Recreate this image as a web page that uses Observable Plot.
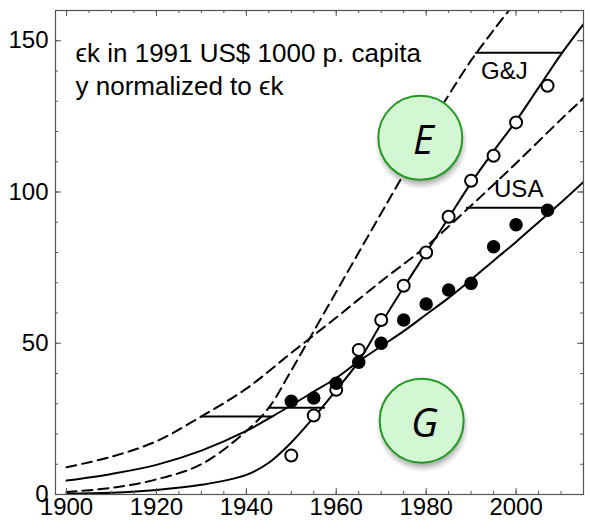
<!DOCTYPE html>
<html><head><meta charset="utf-8">
<script src="https://cdn.jsdelivr.net/npm/d3@7"></script>
<script src="https://cdn.jsdelivr.net/npm/@observablehq/plot@0.6"></script>
<style>body{margin:0;background:#fff}</style>
</head><body><div id="chart"></div>
<script>
// ---- data ----
const xMajorTicks = [1900, 1920, 1940, 1960, 1980, 2000];
const xMinorTicks = [1900,1905,1910,1915,1920,1925,1930,1935,1940,1945,1950,1955,1960,1965,1970,1975,1980,1985,1990,1995,2000,2005,2010,2015];
const yMajorTicks = [0, 50, 100, 150];
const yMinorTicks = [0,10,20,30,40,50,60,70,80,90,100,110,120,130,140,150,160];

// USA model (solid)
const usaModelYears  = [1900,1910,1920,1930,1940,1946,1950,1955,1960,1965,1970,1975,1980,1985,1990,1995,2000,2005,2010,2015];
const usaModelValues = [4.6,6.8,9.8,14.5,21,26,29.5,34,38.5,44,49,54,59.5,65,71,77.3,83.5,90,96.5,103.3];
// USA model shifted (dashed)
const usaShiftYears  = [1900,1910,1920,1930,1940,1950,1960,1970,1980,1990,2000,2010,2015];
const usaShiftValues = [9.0,12.5,17.6,25.8,35,46.8,58.5,70.5,82,95.5,109.5,124,131];
// G&J model (solid)
const gjModelYears  = [1900,1910,1920,1930,1940,1945,1950,1955,1960,1965,1970,1975,1980,1985,1990,1995,2000,2005,2010,2015];
const gjModelValues = [0.3,0.6,1.5,3.2,6.5,10.5,17.2,25.5,34.5,44,56.5,68.5,80,91.5,103,113.5,123.5,134.5,145.5,155.5];
// G&J model shifted (dashed)
const gjShiftYears  = [1900,1910,1920,1930,1940,1945,1950,1955,1960,1965,1970,1975,1980,1985,1990,1995,2000];
const gjShiftValues = [0.8,2.2,5,10,21,28.7,41,54,67,80,93,106,120,132,143.5,153.5,163];

// observed data
const usaDataYears  = [1950,1955,1960,1965,1970,1975,1980,1985,1990,1995,2000,2007];
const usaDataValues = [30.8,31.9,36.8,43.7,50,57.7,63,67.6,69.8,81.9,89.2,94];
const gjDataYears   = [1950,1955,1960,1965,1970,1975,1980,1985,1990,1995,2000,2007];
const gjDataValues  = [12.9,26.1,34.6,47.8,57.7,69,80,91.8,103.7,112,123,135.1];

// horizontal shift segments
const segStart = [1930, 1945, 1989, 1991];
const segEnd   = [1946, 1957.6, 2008.2, 2010.4];
const segValue = [25.8, 28.7, 94.8, 146];

// series labels
const seriesLabels = ["G&J", "USA"];
const seriesLabelYears = [1992.2, 1995.1];
const seriesLabelValues = [137.4, 98.2];

// badges
const badgeLetters = ["E", "G"];
const badgeYears = [1978.7, 1979];
const badgeValues = [117.9, 24.4];

const noteText = "ϵk in 1991 US$ 1000 p. capita\ny normalized to ϵk";

// ---- build tables ----
const zipXY = (xs, ys) => xs.map((x, i) => ({x, y: ys[i]}));
const usaModel = zipXY(usaModelYears, usaModelValues);
const usaShift = zipXY(usaShiftYears, usaShiftValues);
const gjModel = zipXY(gjModelYears, gjModelValues);
const gjShift = zipXY(gjShiftYears, gjShiftValues);
const usaData = zipXY(usaDataYears, usaDataValues);
const gjData = zipXY(gjDataYears, gjDataValues);
const segs = segStart.map((s, i) => ({x1: s, x2: segEnd[i], y: segValue[i]}));
const sLabels = seriesLabels.map((t, i) => ({t, x: seriesLabelYears[i], y: seriesLabelValues[i]}));
const badges = badgeLetters.map((t, i) => ({t, x: badgeYears[i], y: badgeValues[i]}));

const W = 590, H = 524, mL = 55, mR = 7, mT = 10, mB = 30;
const fw = W - mL - mR, fh = H - mT - mB;
const axisColor = "#555";
const font = "'Liberation Sans', Arial, sans-serif";

// soft shadow built from a few translucent layers
const shadowLayers = [[46, 0.05], [44, 0.07], [42, 0.09], [40, 0.1]].map(([r, o]) =>
  Plot.dot(badges, {x: "x", y: "y", r, fill: "#000", fillOpacity: o, dx: 1, dy: 5}));

const chart = Plot.plot({
  width: W, height: H,
  marginLeft: mL, marginRight: mR, marginTop: mT, marginBottom: mB,
  style: {fontFamily: font, fontSize: "24px", background: "#fff", color: "#000"},
  x: {domain: [1897.55, 2015], axis: null},
  y: {domain: [0, 160], axis: null},
  marks: [
    // curves
    Plot.line(usaShift, {x: "x", y: "y", stroke: "#000", strokeWidth: 2, strokeDasharray: "10,6", curve: "catmull-rom", clip: true}),
    Plot.line(gjShift, {x: "x", y: "y", stroke: "#000", strokeWidth: 2, strokeDasharray: "10,6", curve: "catmull-rom", clip: true}),
    Plot.line(usaModel, {x: "x", y: "y", stroke: "#000", strokeWidth: 2, curve: "catmull-rom", clip: true}),
    Plot.line(gjModel, {x: "x", y: "y", stroke: "#000", strokeWidth: 2, curve: "catmull-rom", clip: true}),
    Plot.ruleY(segs, {x1: "x1", x2: "x2", y: "y", stroke: "#000", strokeWidth: 2}),
    // data points
    Plot.dot(gjData, {x: "x", y: "y", r: 6, fill: "#fff", stroke: "#000", strokeWidth: 2}),
    Plot.dot(usaData, {x: "x", y: "y", r: 6, fill: "#000", stroke: "#000"}),
    // badges (on top of the curves)
    ...shadowLayers,
    Plot.dot(badges, {x: "x", y: "y", r: 42, fill: "#d3f6d3", stroke: "#229a22", strokeWidth: 2, ariaLabel: "badge"}),
    Plot.text(badges, {x: "x", y: "y", text: "t", fontSize: 40, fontStyle: "italic", fontFamily: "'Open Sans', sans-serif", fill: "#000", dx: 3, dy: 3}),
    // labels
    Plot.text(sLabels, {x: "x", y: "y", text: "t", textAnchor: "start", lineAnchor: "bottom", fontSize: 24, fill: "#000"}),
    Plot.text([noteText], {frameAnchor: "top-left", dx: 20, dy: 28.5, textAnchor: "start", lineAnchor: "top", lineHeight: 1.27, fontSize: 26, fill: "#000"}),
    // frame + inward ticks
    Plot.frame({stroke: axisColor, strokeWidth: 1.2}),
    Plot.tickX(xMinorTicks, {x: d => d, stroke: axisColor, insetTop: fh - 3}),
    Plot.tickX(xMajorTicks, {x: d => d, stroke: axisColor, insetTop: fh - 6}),
    Plot.tickX(xMinorTicks, {x: d => d, stroke: axisColor, insetBottom: fh - 3}),
    Plot.tickX(xMajorTicks, {x: d => d, stroke: axisColor, insetBottom: fh - 6}),
    Plot.tickY(yMinorTicks, {y: d => d, stroke: axisColor, insetRight: fw - 3}),
    Plot.tickY(yMajorTicks, {y: d => d, stroke: axisColor, insetRight: fw - 6}),
    Plot.tickY(yMinorTicks, {y: d => d, stroke: axisColor, insetLeft: fw - 3}),
    Plot.tickY(yMajorTicks, {y: d => d, stroke: axisColor, insetLeft: fw - 6}),
    // axis labels
    Plot.axisX(xMajorTicks, {anchor: "bottom", label: null, tickSize: 0, tickPadding: 3, tickFormat: d => String(d), fontSize: 24, fill: "#000", ariaLabel: "xlabels"}),
    Plot.axisY(yMajorTicks, {anchor: "left", label: null, tickSize: 0, tickPadding: 7, fontSize: 24, fill: "#000", ariaLabel: "ylabels"})
  ]
});

const svg = d3.select(chart);
// tick labels in the reference are slightly tall
svg.selectAll('g[aria-label="xlabels"] text, g[aria-label="ylabels"] text').each(function() {
  const t = this.getAttribute("transform");
  if (t) this.setAttribute("transform", t + " scale(1,1.2)");
});

document.getElementById("chart").appendChild(chart);
</script>
</body></html>
